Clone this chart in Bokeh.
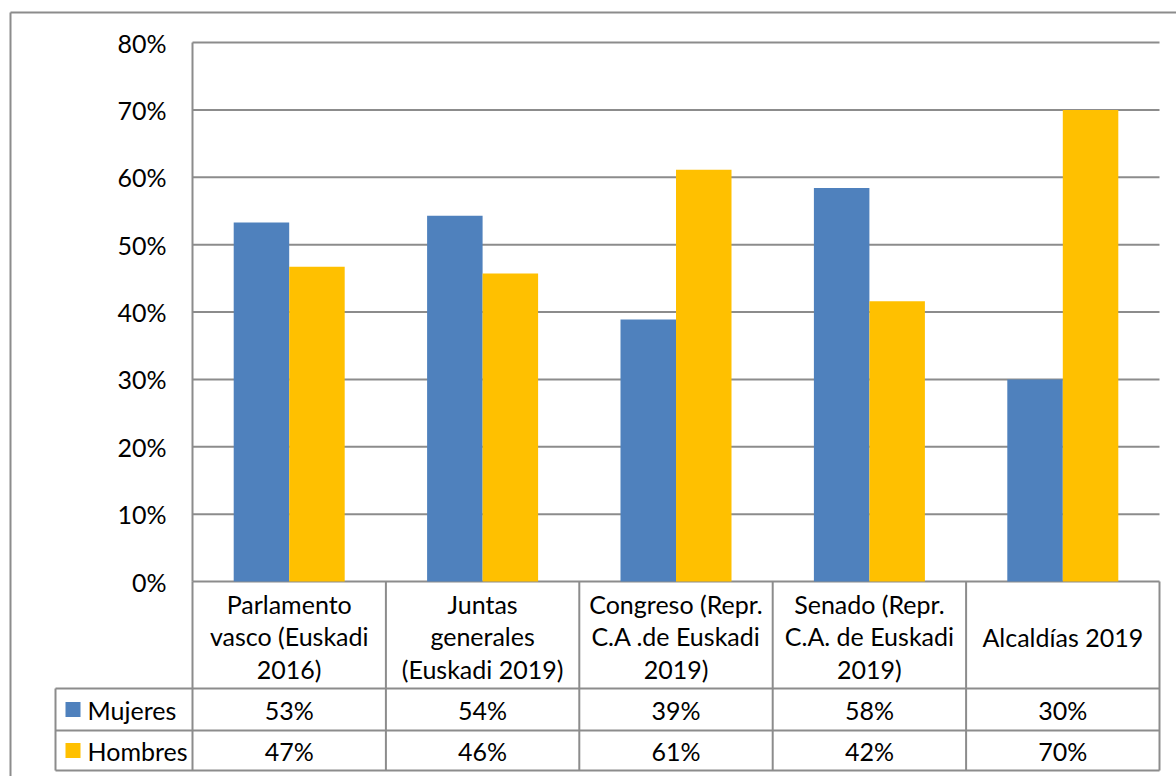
import numpy as np
from bokeh.plotting import figure
from bokeh.models import Range1d
from bokeh.core.properties import value
from bokeh.embed import file_html
from bokeh.resources import INLINE

# ---- data ----
categories = ["Parlamento\nvasco (Euskadi\n2016)",
              "Juntas\ngenerales\n(Euskadi 2019)",
              "Congreso (Repr.\nC.A .de Euskadi\n2019)",
              "Senado (Repr.\nC.A. de Euskadi\n2019)",
              "Alcaldías 2019"]
mujeres = [53.3, 54.3, 38.9, 58.4, 30.0]
hombres = [46.7, 45.7, 61.1, 41.6, 70.0]
series_names = ["Mujeres", "Hombres"]
series_colors = ["#4F81BD", "#FFC000"]
y_ticks = [0.0, 0.1, 0.2, 0.3, 0.4, 0.5, 0.6, 0.7, 0.8]
y_tick_labels = ["0%", "10%", "20%", "30%", "40%", "50%", "60%", "70%", "80%"]

# ---- layout (canvas pixels) ----
W, H = 1176, 776
PL, PR, PT, PB = 192, 1159, 42, 581
n = len(categories)
cat_px = (PR - PL) / n
ymax = 0.8
ypx = (PB - PT) / ymax
x_start = -PL / cat_px
x_end = (W - PL) / cat_px
y_end = ymax + PT / ypx
y_start = -(H - PB) / ypx

def X(px):
    return x_start + px / cat_px

def Y(py):
    return y_end - py / ypx

FONT = value("Lato")
FS = "25px"
GRID = "#8c8c8c"

p = figure(width=W, height=H, x_range=Range1d(x_start, x_end), y_range=Range1d(y_start, y_end),
           output_backend="svg", toolbar_location=None, x_axis_location=None, y_axis_location=None,
           min_border=0, min_border_left=0, min_border_right=0, min_border_top=0, min_border_bottom=0)
p.grid.visible = False
p.outline_line_color = None
p.background_fill_color = "white"
p.border_fill_color = "white"

# gridlines
p.segment(x0=[0] * len(y_ticks), y0=y_ticks, x1=[n] * len(y_ticks), y1=y_ticks,
          line_color=GRID, line_width=2)
# y axis line
p.segment(x0=[0], y0=[ymax], x1=[0], y1=[0], line_color=GRID, line_width=2)

# bars
centers = np.arange(n) + 0.5
bw = 55.5 / cat_px
p.vbar(x=centers - bw / 2, top=np.array(mujeres) / 100, bottom=0, width=bw,
       fill_color=series_colors[0], line_color=None)
p.vbar(x=centers + bw / 2, top=np.array(hombres) / 100, bottom=0, width=bw,
       fill_color=series_colors[1], line_color=None)

# y tick labels
p.text(x=[X(166)] * len(y_ticks), y=y_ticks, text=y_tick_labels, text_align="right",
       text_baseline="middle", text_font=FONT, text_font_size=FS, text_color="#000000")

# table lines
ROW1, ROW2, ROWB = 688, 730, 770
LEFT = 55
p.segment(x0=list(range(n + 1)), y0=[0] * (n + 1), x1=list(range(n + 1)), y1=[Y(ROWB)] * (n + 1),
          line_color=GRID, line_width=2)
p.segment(x0=[X(LEFT)] * 3, y0=[Y(ROW1), Y(ROW2), Y(ROWB)], x1=[n] * 3,
          y1=[Y(ROW1), Y(ROW2), Y(ROWB)], line_color=GRID, line_width=2)
p.segment(x0=[X(LEFT)], y0=[Y(ROW1)], x1=[X(LEFT)], y1=[Y(ROWB)], line_color=GRID, line_width=2)

# outer border
p.segment(x0=[X(10), X(10)], y0=[Y(12), Y(12)], x1=[X(10), X(W + 10)], y1=[Y(H + 10), Y(12)],
          line_color=GRID, line_width=2)

# header texts
p.text(x=centers, y=[Y(636)] * n, text=categories, text_align="center", text_baseline="middle",
       text_font=FONT, text_font_size=FS, text_line_height=1.09, text_color="#000000")

# row values
row_y = [Y(709), Y(750)]
for vals, yy in zip([mujeres, hombres], row_y):
    p.text(x=centers, y=[yy] * n, text=[f"{round(v):d}%" for v in vals], text_align="center",
           text_baseline="middle", text_font=FONT, text_font_size=FS, text_color="#000000")

# legend keys and names
p.scatter(x=[X(72.5)] * 2, y=row_y, marker="square", size=15, fill_color=series_colors,
          line_color=None)
p.text(x=[X(87)] * 2, y=row_y, text=series_names, text_align="left", text_baseline="middle",
       text_font=FONT, text_font_size=FS, text_color="#000000")

open("out.html", "w").write(file_html(p, INLINE))
